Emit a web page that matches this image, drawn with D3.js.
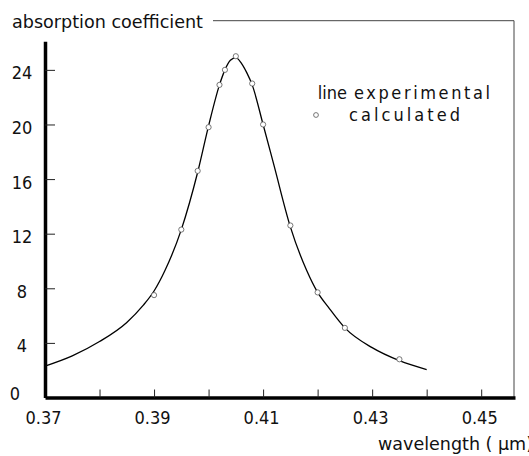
<!DOCTYPE html>
<html>
<head>
<meta charset="utf-8">
<script src="https://cdn.jsdelivr.net/npm/d3@7"></script>
<style>
  html, body { margin: 0; padding: 0; background: #fff; }
  svg { display: block; }
  text { font-family: "DejaVu Sans Condensed", "DejaVu Sans", sans-serif; fill: #111; }
</style>
</head>
<body>
<svg id="chart" width="529" height="456"></svg>
<script>
// ---- data ----
const lineWavelength = [0.370, 0.375, 0.380, 0.385, 0.388, 0.390, 0.392, 0.395, 0.398, 0.400, 0.402, 0.403, 0.404, 0.405, 0.406, 0.407, 0.408, 0.410, 0.412, 0.415, 0.418, 0.420, 0.422, 0.425, 0.430, 0.435, 0.440];
const lineAbsorption = [2.3, 3.05, 4.1, 5.5, 6.75, 7.8, 9.3, 12.3, 16.5, 19.9, 22.9, 24.0, 24.7, 24.9, 24.5, 23.8, 22.9, 20.0, 17.0, 12.5, 9.3, 7.7, 6.6, 5.1, 3.65, 2.7, 2.05];

const calcWavelength = [0.390, 0.395, 0.398, 0.400, 0.402, 0.403, 0.405, 0.408, 0.410, 0.415, 0.420, 0.425, 0.435];
const calcAbsorption = [7.5, 12.3, 16.6, 19.8, 22.9, 24.0, 25.0, 23.0, 20.0, 12.6, 7.7, 5.1, 2.8];

const xTickValues = [0.37, 0.38, 0.39, 0.40, 0.41, 0.42, 0.43, 0.44, 0.45];
const xTickLabels = ["0.37", "", "0.39", "", "0.41", "", "0.43", "", "0.45"];
const yTickValues = [0, 4, 8, 12, 16, 20, 24];
const yTickLabels = ["0", "4", "8", "12", "16", "20", "24"];

const yTitle = "absorption coefficient";
const xTitle = "wavelength ( \u03bcm)";
const legendLineLabel = "line";
const legendLineText = "experimental";
const legendPointText = "calculated";

// ---- layout ----
const svg = d3.select("#chart");
const x = d3.scaleLinear().domain([0.37, 0.4562]).range([45, 515]);
const y = d3.scaleLinear().domain([0, 26.1]).range([397.5, 41.2]);

// frame (thin top + right lines)
svg.append("path")
  .attr("d", `M213,20.7 H514 V397.5`)
  .attr("fill", "none").attr("stroke", "#444").attr("stroke-width", 1);

// x axis
const xAxis = d3.axisBottom(x)
  .tickValues(xTickValues)
  .tickSizeInner(-8).tickSizeOuter(0)
  .tickPadding(14)
  .tickFormat((d, i) => xTickLabels[i]);
const gx = svg.append("g").attr("transform", `translate(0,${y(0)})`).call(xAxis);
gx.select(".domain").attr("stroke", "#000").attr("stroke-width", 3.5);
gx.selectAll(".tick line").attr("stroke", "#222").attr("stroke-width", 1);
gx.selectAll(".tick text").attr("font-size", 18).attr("dx", -2)
  .style("font-family", '"DejaVu Sans Condensed", sans-serif').attr("fill", "#111");

// y axis
const yAxis = d3.axisLeft(y)
  .tickValues(yTickValues)
  .tickSizeInner(-10).tickSizeOuter(0)
  .tickFormat((d, i) => yTickLabels[i]);
const gy = svg.append("g").attr("transform", `translate(${x(0.37)},0)`).call(yAxis);
gy.select(".domain").attr("stroke", "#000").attr("stroke-width", 3.5);
gy.selectAll(".tick line").attr("stroke", "#222").attr("stroke-width", 1)
  .filter(d => d === 0).remove();
gy.selectAll(".tick text").attr("font-size", 18).attr("text-anchor", "middle")
  .attr("x", -23).attr("dy", "0.5em")
  .style("font-family", '"DejaVu Sans Condensed", sans-serif').attr("fill", "#111");
gy.selectAll(".tick text").filter(d => d === 0).attr("x", -30).attr("dy", "0.1em");

// curve
const lineData = lineWavelength.map((w, i) => [w, lineAbsorption[i]]);
const line = d3.line().x(d => x(d[0])).y(d => y(d[1])).curve(d3.curveMonotoneX);
svg.append("path").datum(lineData)
  .attr("d", line).attr("fill", "none").attr("stroke", "#000").attr("stroke-width", 1.3);

// calculated points
const calcData = calcWavelength.map((w, i) => [w, calcAbsorption[i]]);
svg.append("g").selectAll("circle").data(calcData).join("circle")
  .attr("cx", d => x(d[0])).attr("cy", d => y(d[1])).attr("r", 2.6)
  .attr("fill", "#fff").attr("stroke", "#555").attr("stroke-width", 0.8);

// titles
svg.append("text").attr("x", 12).attr("y", 28).attr("font-size", 18)
  .attr("textLength", 191).attr("lengthAdjust", "spacingAndGlyphs").text(yTitle);
svg.append("text").attr("x", 378).attr("y", 450).attr("font-size", 18)
  .attr("textLength", 155).attr("lengthAdjust", "spacingAndGlyphs").text(xTitle);

// legend
svg.append("text").attr("x", 347).attr("y", 99).attr("font-size", 18)
  .attr("text-anchor", "end").text(legendLineLabel);
svg.append("text").attr("x", 354).attr("y", 99).attr("font-size", 18)
  .attr("textLength", 136).attr("lengthAdjust", "spacing").text(legendLineText);
svg.append("circle").attr("cx", 316).attr("cy", 115).attr("r", 2.4)
  .attr("fill", "#fff").attr("stroke", "#555").attr("stroke-width", 0.8);
svg.append("text").attr("x", 349).attr("y", 121).attr("font-size", 18)
  .attr("textLength", 111).attr("lengthAdjust", "spacing").text(legendPointText);
</script>
</body>
</html>
